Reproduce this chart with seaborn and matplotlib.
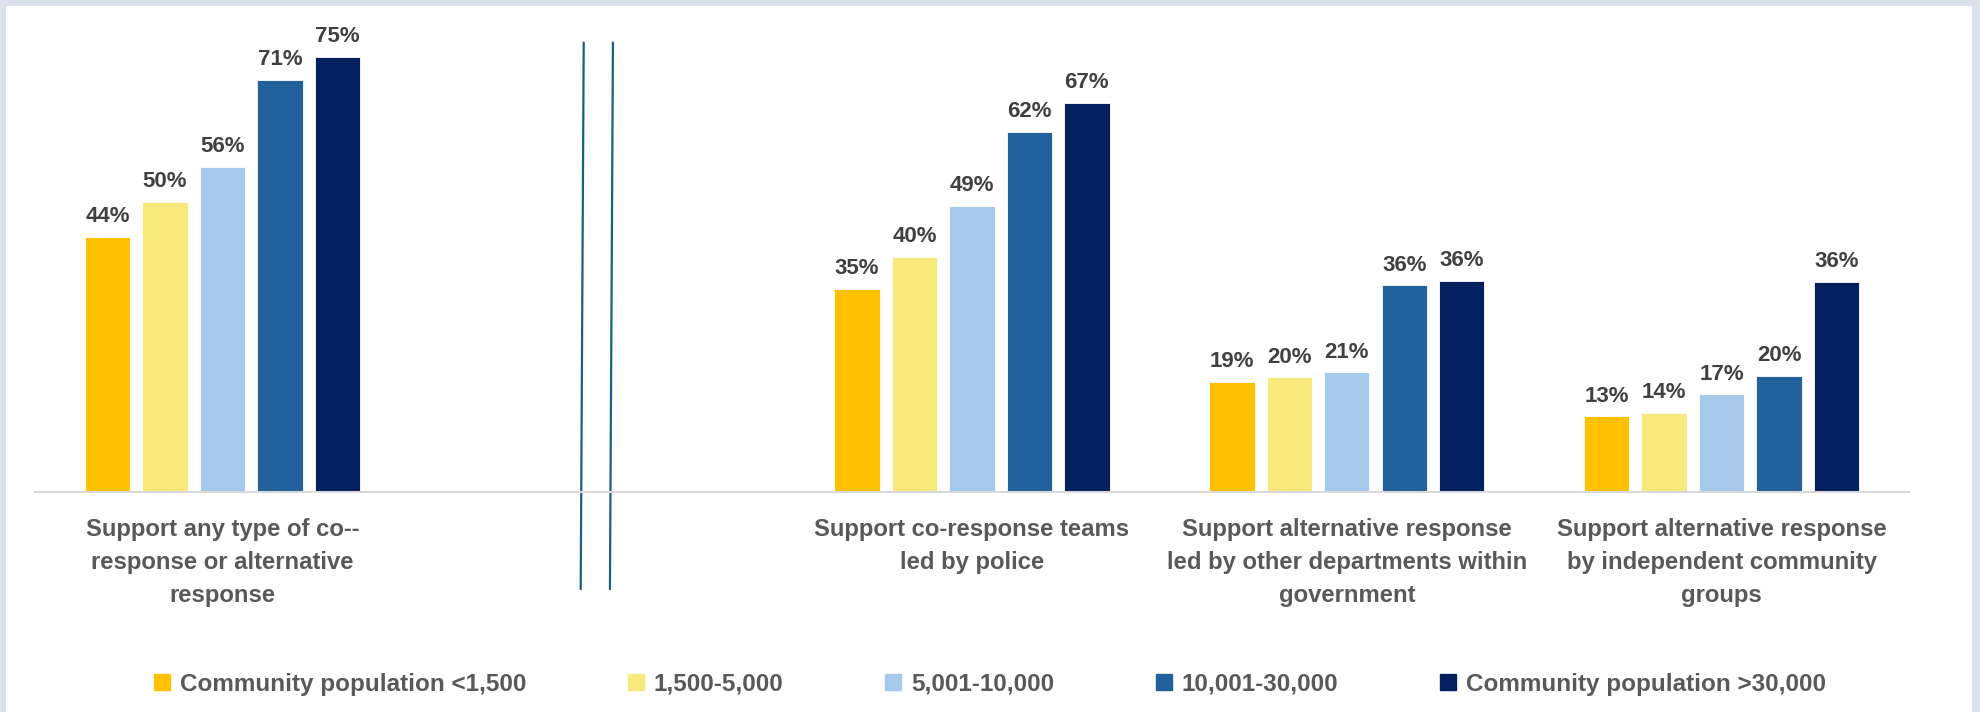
import matplotlib
matplotlib.use('Agg')
import matplotlib.pyplot as plt
import matplotlib.patches as mpatches
import matplotlib.transforms as mtransforms
import pandas as pd
import seaborn as sns

sns.set_style('white')
plt.rcParams['font.family'] = ['Liberation Sans', 'DejaVu Sans']

# categories (blank slot at index 1 is where the break marks sit)
categories = [
    "Support any type of co--\nresponse or alternative\nresponse",
    " ",
    "Support co-response teams\nled by police",
    "Support alternative response\nled by other departments within\ngovernment",
    "Support alternative response\nby independent community\ngroups",
]
groups = ["Community population <1,500", "1,500-5,000", "5,001-10,000",
          "10,001-30,000", "Community population >30,000"]
colors = ["#FFC000", "#F8E97C", "#A7CAEC", "#21609B", "#02205E"]

any_type = [44, 50, 56, 71, 75]
police_led = [35, 40.5, 49.3, 62, 67]
other_dept = [19, 19.7, 20.6, 35.6, 36.3]
community = [13, 13.6, 16.8, 20, 36.2]

rows = []
for cat, vals in [(categories[0], any_type), (categories[2], police_led),
                  (categories[3], other_dept), (categories[4], community)]:
    for g, v in zip(groups, vals):
        rows.append({'category': cat, 'group': g, 'value': v})
df = pd.DataFrame(rows)

fig = plt.figure(figsize=(19.8, 7.12), dpi=100, facecolor='#dbe2ec')
# white chart area inside the light frame
bg = mpatches.Rectangle((6 / 1980, 0), 1966 / 1980, 706 / 712,
                        transform=fig.transFigure, facecolor='white',
                        edgecolor='none', zorder=-10)
fig.patches.append(bg)
ax = fig.add_axes([35 / 1980, 0.3094, 1874 / 1980, 0.6517])
ax.set_facecolor('none')
ax.set_zorder(1)

sns.barplot(data=df, x='category', y='value', hue='group', order=categories,
            hue_order=groups, palette=colors, width=0.766, gap=0.21,
            saturation=1, edgecolor='white', linewidth=0.6, legend=False, ax=ax)

for cont in ax.containers:
    ax.bar_label(cont, fmt='{:.0f}%', padding=7, fontsize=16, fontweight='bold',
                 color='#404040')

ax.set_ylim(0, 80)
ax.set_xlim(-0.5, 4.5)
ax.set_xlabel('')
ax.set_ylabel('')
ax.set_yticks([])
for s in ['left', 'right', 'top']:
    ax.spines[s].set_visible(False)
ax.spines['bottom'].set_color('#d9d9d9')
ax.spines['bottom'].set_linewidth(1.5)
ax.tick_params(axis='x', length=0, pad=19)
for lab in ax.get_xticklabels():
    lab.set_fontsize(17.2)
    lab.set_fontweight('bold')
    lab.set_color('#595959')
    lab.set_linespacing(1.55)

# axis break marks
trans = mtransforms.blended_transform_factory(ax.transData, ax.transAxes)
for dx in [-0.04, 0.038]:
    ax.plot([1 + dx - 0.004, 1 + dx + 0.004], [-0.21, 0.968], transform=trans,
            color='#1b5e83', lw=1.6, clip_on=False)

handles = [mpatches.Patch(color=c, label=g) for c, g in zip(colors, groups)]
leg = fig.legend(handles=handles, loc='center', bbox_to_anchor=(0.5, 1 - 684 / 712),
                 ncol=5, frameon=False, handlelength=0.65, handleheight=0.65,
                 handletextpad=0.4, columnspacing=4.2,
                 prop={'weight': 'bold', 'size': 17.5})
for t in leg.get_texts():
    t.set_color('#595959')

fig.savefig('out.png', dpi=100, facecolor=fig.get_facecolor())
